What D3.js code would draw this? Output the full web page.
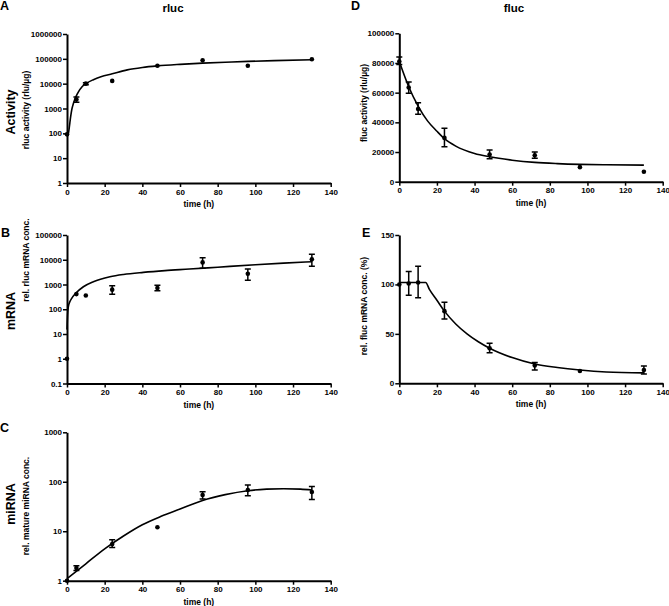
<!DOCTYPE html>
<html>
<head>
<meta charset="utf-8">
<script src="https://cdn.jsdelivr.net/npm/d3@7"></script>
<style>
  body { margin: 0; background: #fff; }
  svg { display: block; font-family: "Liberation Sans", Arial, sans-serif; font-weight: bold; }
  .axis path, .axis line { stroke: #000; }
  .axis text { font-size: 8px; font-weight: bold; fill: #000; font-family: "Liberation Sans", Arial, sans-serif; }
</style>
</head>
<body>
<svg id="chart" width="669" height="606"></svg>
<script>
// x ticks shared by every panel
var timeTicks = [0, 20, 40, 60, 80, 100, 120, 140];

// A: rluc activity
var rlucActTime = [0, 5, 10, 24, 48, 72, 96, 130];
var rlucAct = [91, 2300, 10000, 12900, 53000, 87000, 53000, 96000];
var rlucActLo = [91, 1800, 9000, 12900, 53000, 87000, 53000, 96000];
var rlucActHi = [91, 2900, 11000, 12900, 53000, 87000, 53000, 96000];
var rlucActFitTime = [0, 0.5, 1, 1.5, 2, 2.5, 3, 4, 5, 6, 8, 10, 14, 18, 24, 32, 40, 48, 60, 72, 84, 96, 110, 130];
var rlucActFit = [95, 82, 130, 260, 500, 870, 1250, 2200, 3300, 4600, 7500, 10000, 14500, 19000, 25000, 36000, 45000, 52000, 60000, 67000, 73000, 79000, 85000, 92000];
var rlucActTicks = [1, 10, 100, 1000, 10000, 100000, 1000000];

// B: rluc mRNA
var rlucMrnaTime = [0, 5, 10, 24, 48, 72, 96, 130];
var rlucMrna = [1, 410, 360, 620, 720, 7800, 2700, 10400];
var rlucMrnaLo = [1, 410, 360, 400, 560, 4500, 1500, 5500];
var rlucMrnaHi = [1, 410, 360, 900, 940, 12000, 4200, 16500];
var rlucMrnaFitTime = [0, 0.3, 0.7, 1.5, 2.5, 4.6, 8.7, 14, 22.8, 30, 40.5, 52, 65, 80, 100, 115, 130];
var rlucMrnaFit = [15, 60, 126, 200, 275, 440, 810, 1290, 2050, 2550, 3100, 3650, 4200, 5000, 6300, 7300, 8300];
var rlucMrnaTicks = [0.1, 1, 10, 100, 1000, 10000, 100000];

// C: mature miRNA
var mirnaTime = [0, 5, 24, 48, 72, 96, 130];
var mirna = [1, 1.8, 5.5, 12, 54, 68, 62];
var mirnaLo = [1, 1.6, 4.7, 12, 45, 52, 44];
var mirnaHi = [1, 2.0, 6.7, 12, 63, 86, 80];
var mirnaFitTime = [0, 10, 20, 30, 40, 50, 60, 72, 84, 96, 106, 115, 124, 130];
var mirnaFit = [1.1, 2.2, 4.4, 8, 13.5, 20, 28, 42, 55, 66, 71, 72.5, 71, 68];
var mirnaTicks = [1, 10, 100, 1000];

// D: fluc activity
var flucActTime = [0, 5, 10, 24, 48, 72, 96, 130];
var flucAct = [81000, 63500, 49000, 29500, 18300, 17800, 9800, 6700];
var flucActLo = [79000, 59600, 45400, 23600, 15500, 15800, 9800, 6700];
var flucActHi = [84000, 67200, 53200, 36000, 21400, 20000, 9800, 6700];
var flucActFitTime = [0, 5, 10, 15, 20, 24, 30, 40, 48, 60, 72, 84, 96, 110, 130];
var flucActFit = [81000, 64000, 51000, 41000, 34000, 29000, 24000, 19000, 16800, 14500, 13000, 12200, 11700, 11400, 11200];
var flucActTicks = [0, 20000, 40000, 60000, 80000, 100000];

// E: fluc mRNA (%)
var flucMrnaTime = [0, 5, 10, 24, 48, 72, 96, 130];
var flucMrna = [100, 101, 102, 73, 35.5, 18, 12.5, 13.4];
var flucMrnaLo = [100, 89, 86.5, 65, 31, 13.4, 12.5, 9.4];
var flucMrnaHi = [100, 113, 118.5, 82, 40.6, 21, 12.5, 17.5];
var flucMrnaFitTime = [0, 14, 16, 20, 24, 30, 36, 42, 48, 60, 72, 84, 96, 110, 130];
var flucMrnaFit = [102, 102, 95, 84, 73, 60, 50, 42, 35.5, 26, 19.5, 16, 13.5, 11.5, 10.5];
var flucMrnaTicks = [0, 50, 100, 150];

var svg = d3.select("#chart");

function zip(t, v, lo, hi) {
    return t.map(function (d, i) {
        return { t: d, v: v[i], lo: lo ? lo[i] : v[i], hi: hi ? hi[i] : v[i] };
    });
}

function drawPanel(p) {
    var x = d3.scaleLinear().domain([0, 140]).range([p.left, p.right]);
    var y = p.log ? d3.scaleLog() : d3.scaleLinear();
    y.domain(p.domain).range([p.bottom, p.top]);

    var fmt = function (d) { return d < 1 ? String(d) : d3.format("d")(d); };

    var g = svg.append("g");

    g.append("g")
        .attr("class", "axis")
        .attr("transform", "translate(0," + p.bottom + ")")
        .call(d3.axisBottom(x).tickValues(timeTicks).tickSize(4).tickSizeOuter(0).tickPadding(2).tickFormat(d3.format("d")))
        .call(function (a) {
            a.select(".domain").attr("stroke-width", 2);
            a.selectAll(".tick line").attr("stroke-width", 1.5);
        });

    g.append("g")
        .attr("class", "axis")
        .attr("transform", "translate(" + p.left + ",0)")
        .call(d3.axisLeft(y).tickValues(p.ticks).tickSize(4).tickSizeOuter(0).tickPadding(1).tickFormat(fmt))
        .call(function (a) {
            a.select(".domain").attr("stroke-width", 2);
            a.selectAll(".tick line").attr("stroke-width", 1.5);
        });

    // fitted curve
    var line = d3.line()
        .x(function (d) { return x(d.t); })
        .y(function (d) { return y(d.v); })
        .curve(d3.curveMonotoneX);

    g.append("path")
        .datum(zip(p.fitTime, p.fit))
        .attr("d", line)
        .attr("fill", "none")
        .attr("stroke", "#000")
        .attr("stroke-width", 1.6);

    var pts = zip(p.time, p.values, p.lo, p.hi);
    var bars = pts.filter(function (d) { return d.hi !== d.lo; });

    g.selectAll(".ebar")
        .data(bars)
        .enter()
        .append("path")
        .attr("d", function (d) {
            var cx = x(d.t), y1 = y(d.lo), y2 = y(d.hi);
            return "M" + (cx - 3) + "," + y1 + "H" + (cx + 3) +
                "M" + cx + "," + y1 + "V" + y2 +
                "M" + (cx - 3) + "," + y2 + "H" + (cx + 3);
        })
        .attr("fill", "none")
        .attr("stroke", "#000")
        .attr("stroke-width", 1.5);

    g.selectAll(".dot")
        .data(pts)
        .enter()
        .append("circle")
        .attr("cx", function (d) { return x(d.t); })
        .attr("cy", function (d) { return y(d.v); })
        .attr("r", 2.3)
        .attr("fill", "#000");

    // axis titles
    g.append("text")
        .attr("x", (p.left + p.right) / 2)
        .attr("y", p.bottom + 24)
        .attr("text-anchor", "middle")
        .attr("font-size", "8.5px")
        .text("time (h)");

    g.append("text")
        .attr("transform", "translate(" + p.yLabelX + "," + p.yLabelY + ") rotate(-90)")
        .attr("text-anchor", "middle")
        .attr("font-size", "8.5px")
        .text(p.yLabel);

    if (p.rowLabel) {
        g.append("text")
            .attr("transform", "translate(15," + p.rowLabelY + ") rotate(-90)")
            .attr("text-anchor", "middle")
            .attr("font-size", "12.5px")
            .text(p.rowLabel);
    }

    g.append("text")
        .attr("x", p.letterX)
        .attr("y", p.letterY)
        .attr("font-size", "12.5px")
        .text(p.letter);
}

drawPanel({
    left: 67, right: 330.7, top: 34, bottom: 183, log: true, domain: [1, 1000000], ticks: rlucActTicks,
    time: rlucActTime, values: rlucAct, lo: rlucActLo, hi: rlucActHi,
    fitTime: rlucActFitTime, fit: rlucActFit,
    yLabel: "rluc activity (rlu/µg)", yLabelX: 29, yLabelY: 110,
    rowLabel: "Activity", rowLabelY: 112, letter: "A", letterX: 0, letterY: 10
});

drawPanel({
    left: 67, right: 330.7, top: 235, bottom: 383.5, log: true, domain: [0.1, 100000], ticks: rlucMrnaTicks,
    time: rlucMrnaTime, values: rlucMrna, lo: rlucMrnaLo, hi: rlucMrnaHi,
    fitTime: rlucMrnaFitTime, fit: rlucMrnaFit,
    yLabel: "rel. rluc mRNA conc.", yLabelX: 29, yLabelY: 260,
    rowLabel: "mRNA", rowLabelY: 311, letter: "B", letterX: 1, letterY: 237
});

drawPanel({
    left: 67, right: 330.7, top: 432.3, bottom: 580.7, log: true, domain: [1, 1000], ticks: mirnaTicks,
    time: mirnaTime, values: mirna, lo: mirnaLo, hi: mirnaHi,
    fitTime: mirnaFitTime, fit: mirnaFit,
    yLabel: "rel. mature miRNA conc.", yLabelX: 29, yLabelY: 506,
    rowLabel: "miRNA", rowLabelY: 504, letter: "C", letterX: 0, letterY: 432
});

drawPanel({
    left: 399.3, right: 662.7, top: 33.3, bottom: 181.7, log: false, domain: [0, 100000], ticks: flucActTicks,
    time: flucActTime, values: flucAct, lo: flucActLo, hi: flucActHi,
    fitTime: flucActFitTime, fit: flucActFit,
    yLabel: "fluc activity (rlu/µg)", yLabelX: 367, yLabelY: 103,
    letter: "D", letterX: 351, letterY: 10
});

drawPanel({
    left: 399.3, right: 662.7, top: 235, bottom: 383.3, log: false, domain: [0, 150], ticks: flucMrnaTicks,
    time: flucMrnaTime, values: flucMrna, lo: flucMrnaLo, hi: flucMrnaHi,
    fitTime: flucMrnaFitTime, fit: flucMrnaFit,
    yLabel: "rel. fluc mRNA conc. (%)", yLabelX: 367, yLabelY: 306,
    letter: "E", letterX: 362, letterY: 237
});

// column titles
svg.append("text").attr("x", 173).attr("y", 12).attr("text-anchor", "middle").attr("font-size", "11.5px").text("rluc");
svg.append("text").attr("x", 514).attr("y", 12).attr("text-anchor", "middle").attr("font-size", "11.5px").text("fluc");
</script>
</body>
</html>
